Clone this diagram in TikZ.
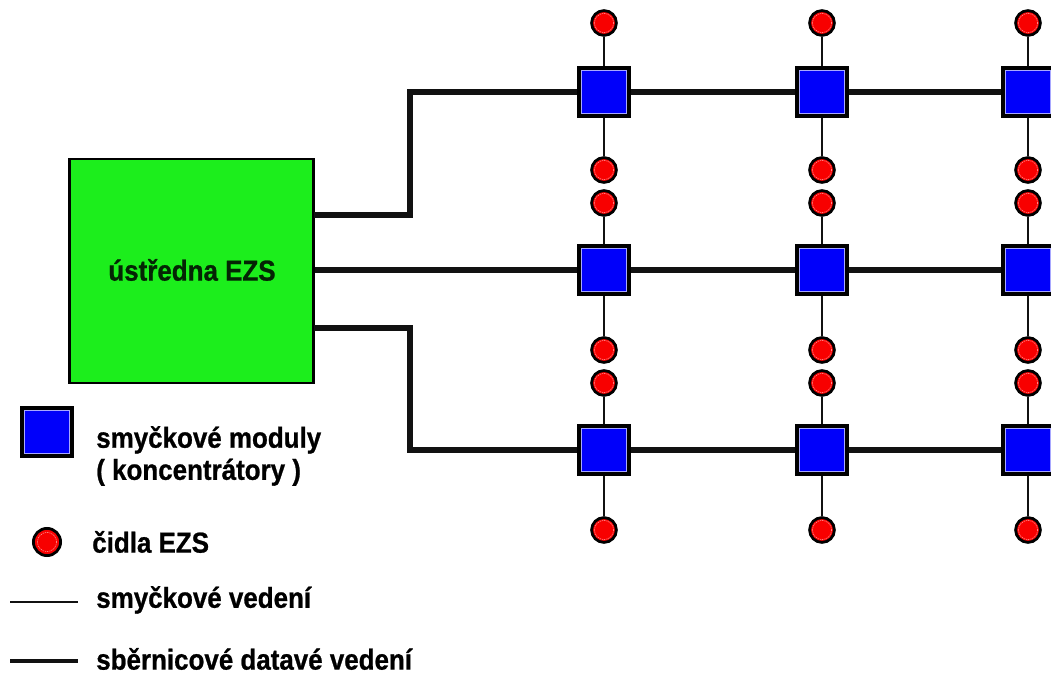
\documentclass[tikz,border=0pt]{standalone}
\usepackage{fontspec}
\setmainfont[FakeStretch=0.9, FakeBold=0.8]{Liberation Sans}
\usepackage{tikz}
\usepackage{xcolor}
\definecolor{ezsGreen}{HTML}{1CEE1C}
\definecolor{ezsBlue}{HTML}{0000FA}
\definecolor{ezsBlueEdge}{HTML}{A8A8FF}
\definecolor{ezsRed}{HTML}{F80000}
\definecolor{ezsRedEdge}{HTML}{FF9A9A}
\definecolor{ezsLine}{HTML}{111111}
\tikzset{
  modul/.style={rectangle, draw=black, line width=0.085cm, fill=ezsBlue,
    minimum width=1.25cm, minimum height=1.2cm, inner sep=0pt,
    path picture={\draw[ezsBlueEdge, line width=0.6pt]
      ([shift={(0.07cm,0.07cm)}]path picture bounding box.south west) rectangle
      ([shift={(-0.07cm,-0.07cm)}]path picture bounding box.north east);}},
  cidlo/.style={circle, draw=black, line width=0.07cm, fill=ezsRed,
    minimum size=0.62cm, inner sep=0pt,
    path picture={\draw[ezsRedEdge, line width=0.4pt, dash pattern=on 1pt off 0.6pt]
      (path picture bounding box.center) circle (0.24cm);}},
  bus/.style={ezsLine, line width=0.13cm},
  smycka/.style={ezsLine, line width=0.065cm},
  popis/.style={anchor=west, inner sep=0pt, font=\bfseries\fontsize{20.5pt}{22.8pt}\selectfont}
}

\begin{document}
\begin{tikzpicture}[x=0.025cm, y=-0.025cm]
  \clip (0,0) rectangle (1051,675);
  \fill[white] (0,0) rectangle (1051,675);
  % ustredna
  \node[rectangle, draw=black, line width=0.06cm, fill=ezsGreen, minimum width=6.1cm, minimum height=5.6cm] (ustredna) at (191.5,271) {};
  \node[font=\bfseries\fontsize{20.5pt}{22.8pt}\selectfont, inner sep=0pt, text=black!85!ezsGreen] (ustrednaText) at (192,270) {ústředna EZS};
  % moduly
  \node[modul] (m11) at (604,92) {};
  \node[modul] (m21) at (822,92) {};
  \node[modul] (m31) at (1028,92) {};
  \node[modul] (m12) at (604,270) {};
  \node[modul] (m22) at (822,270) {};
  \node[modul] (m32) at (1028,270) {};
  \node[modul] (m13) at (604,450) {};
  \node[modul] (m23) at (822,450) {};
  \node[modul] (m33) at (1028,450) {};
  % cidla
  \node[cidlo] (c11a) at (604,23) {};
  \node[cidlo] (c11b) at (604,170) {};
  \node[cidlo] (c21a) at (822,23) {};
  \node[cidlo] (c21b) at (822,170) {};
  \node[cidlo] (c31a) at (1028,23) {};
  \node[cidlo] (c31b) at (1028,170) {};
  \node[cidlo] (c12a) at (604,203) {};
  \node[cidlo] (c12b) at (604,350) {};
  \node[cidlo] (c22a) at (822,203) {};
  \node[cidlo] (c22b) at (822,350) {};
  \node[cidlo] (c32a) at (1028,203) {};
  \node[cidlo] (c32b) at (1028,350) {};
  \node[cidlo] (c13a) at (604,383) {};
  \node[cidlo] (c13b) at (604,530) {};
  \node[cidlo] (c23a) at (822,383) {};
  \node[cidlo] (c23b) at (822,530) {};
  \node[cidlo] (c33a) at (1028,383) {};
  \node[cidlo] (c33b) at (1028,530) {};
  % smyckove vedeni
  \draw[smycka] (c11a) -- (m11) -- (c11b);
  \draw[smycka] (c21a) -- (m21) -- (c21b);
  \draw[smycka] (c31a) -- (m31) -- (c31b);
  \draw[smycka] (c12a) -- (m12) -- (c12b);
  \draw[smycka] (c22a) -- (m22) -- (c22b);
  \draw[smycka] (c32a) -- (m32) -- (c32b);
  \draw[smycka] (c13a) -- (m13) -- (c13b);
  \draw[smycka] (c23a) -- (m23) -- (c23b);
  \draw[smycka] (c33a) -- (m33) -- (c33b);
  % sbernicove vedeni
  \coordinate (v1) at (314,215);
  \coordinate (k1) at (410,215);
  \coordinate (v3) at (314,328);
  \coordinate (k3) at (410,328);
  \draw[bus] (v1) -- (k1) |- (m11);
  \draw[bus] (m11) -- (m21) -- (m31);
  \draw[bus] (ustredna.east |- m12) -- (m12) -- (m22) -- (m32);
  \draw[bus] (v3) -- (k3) |- (m13);
  \draw[bus] (m13) -- (m23) -- (m33);
  % legenda
  \node[modul] (lModul) at (47,432) {};
  \node[cidlo, minimum size=0.68cm] (lCidlo) at (47,542) {};
  \coordinate (lS1) at (10,602);
  \coordinate (lS2) at (78,602);
  \coordinate (lB1) at (10,661);
  \coordinate (lB2) at (78,661);
  \draw[ezsLine, line width=0.05cm] (lS1) -- (lS2);
  \draw[ezsLine, line width=0.12cm] (lB1) -- (lB2);
  \node[popis, align=left] (tModul) at (96,456) {smyčkové moduly\\( koncentrátory )};
  \node[popis] (tCidlo) at (92,542) {čidla EZS};
  \node[popis] (tSmycka) at (96,600) {smyčkové vedení};
  \node[popis] (tBus) at (96,659) {sběrnicové datavé vedení};
\end{tikzpicture}
\end{document}
